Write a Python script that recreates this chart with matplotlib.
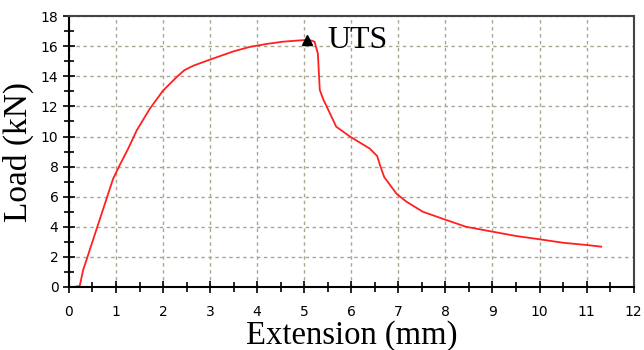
import matplotlib.pyplot as plt
from matplotlib.ticker import MultipleLocator

# load-extension curve
extension = [0.0, 0.1, 0.23, 0.30, 0.52, 0.73, 0.94, 1.08, 1.26, 1.44, 1.72, 2.00,
             2.29, 2.45, 2.64, 2.99, 3.49, 3.84, 4.20, 4.55, 4.80, 4.97, 5.10, 5.22,
             5.29, 5.33, 5.40, 5.68, 5.97, 6.39, 6.55, 6.62, 6.70, 6.96, 7.17, 7.52,
             8.02, 8.44, 9.01, 9.50, 10.0, 10.5, 11.0, 11.31]
load = [0.0, 0.0, 0.07, 1.1, 3.2, 5.2, 7.2, 8.1, 9.2, 10.4, 11.85, 13.05,
        13.95, 14.4, 14.7, 15.1, 15.65, 15.95, 16.15, 16.3, 16.36, 16.4, 16.42, 16.3,
        15.5, 13.1, 12.5, 10.65, 10.0, 9.2, 8.7, 8.0, 7.3, 6.2, 5.67, 5.0,
        4.45, 4.0, 3.67, 3.39, 3.17, 2.94, 2.79, 2.68]
uts_x, uts_y = 5.05, 16.41

fig = plt.figure(figsize=(6.44, 3.5), dpi=100)
ax = fig.add_axes([0.107, 0.18, 0.877, 0.774])

ax.plot(extension, load, c='#ff2020', lw=1.3)
ax.plot(uts_x, uts_y, marker='^', c='black', ms=7)
ax.text(uts_x + 0.45, uts_y, 'UTS', family='Liberation Serif', fontsize=23,
        va='center', ha='left')

ax.set_xlim(0, 12)
ax.set_ylim(0, 18)
ax.xaxis.set_major_locator(MultipleLocator(1))
ax.xaxis.set_minor_locator(MultipleLocator(0.5))
ax.yaxis.set_major_locator(MultipleLocator(2))
ax.yaxis.set_minor_locator(MultipleLocator(1))
ax.tick_params(which='both', direction='inout', width=1.2, labelsize=10)
ax.tick_params(which='major', length=8)
ax.tick_params(which='minor', length=7)
ax.tick_params(axis='x', which='major', pad=9)
ax.grid(True, which='major', color='#aaa591', ls=(0, (2.5, 2.5)), lw=1)

for s in ['left', 'bottom']:
    ax.spines[s].set_color('black')
    ax.spines[s].set_linewidth(1.5)
for s in ['top', 'right']:
    ax.spines[s].set_color('#444444')
    ax.spines[s].set_linewidth(1.5)

ax.set_xlabel('Extension (mm)', family='Liberation Serif', fontsize=23.5, labelpad=1)
ax.set_ylabel('Load (kN)', family='Liberation Serif', fontsize=24, labelpad=5)

fig.savefig('out.png')
